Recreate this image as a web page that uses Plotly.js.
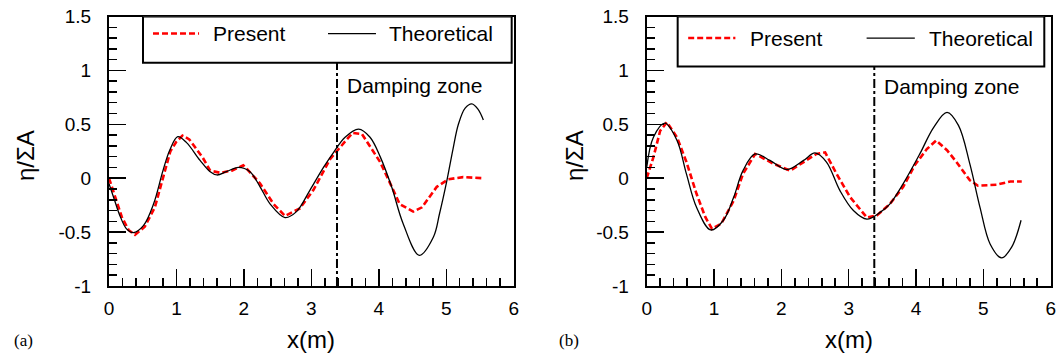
<!DOCTYPE html>
<html>
<head>
<meta charset="utf-8">
<script src="https://cdn.plot.ly/plotly-3.0.1.min.js"></script>
<style>
  html, body { margin: 0; padding: 0; background: #fff; }
  #chart { width: 1059px; height: 353px; }
</style>
</head>
<body>
<div id="chart"></div>
<script>
// Panel (a): free-surface elevation along the flume
const xPresentA = [0, 0.09, 0.19, 0.29, 0.385, 0.53, 0.68, 0.83, 0.91, 1.0, 1.09, 1.19, 1.39, 1.50, 1.65, 1.82, 1.99, 2.04, 2.24, 2.44, 2.61, 2.83, 3.03, 3.28, 3.47, 3.61, 3.75, 4.02, 4.17, 4.31, 4.51, 4.64, 4.86, 5.03, 5.25, 5.53];
const yPresentA = [0, -0.175, -0.36, -0.48, -0.525, -0.45, -0.27, 0.07, 0.25, 0.34, 0.395, 0.36, 0.19, 0.07, 0.05, 0.07, 0.12, 0.09, -0.05, -0.24, -0.35, -0.28, -0.11, 0.18, 0.32, 0.42, 0.41, 0.15, -0.05, -0.24, -0.31, -0.27, -0.08, -0.01, 0.01, 0.0];
const xTheoryA = [0, 0.08, 0.16, 0.26, 0.36, 0.51, 0.66, 0.80, 0.90, 1.02, 1.15, 1.35, 1.50, 1.60, 1.74, 1.92, 2.09, 2.24, 2.39, 2.61, 2.78, 2.98, 3.18, 3.33, 3.50, 3.70, 3.87, 4.02, 4.19, 4.36, 4.60, 4.81, 4.90, 5.01, 5.10, 5.18, 5.28, 5.38, 5.47, 5.55];
const yTheoryA = [-0.05, -0.20, -0.345, -0.47, -0.505, -0.44, -0.24, 0.07, 0.26, 0.386, 0.33, 0.165, 0.06, 0.03, 0.06, 0.10, 0.06, -0.08, -0.24, -0.365, -0.31, -0.11, 0.10, 0.24, 0.38, 0.455, 0.38, 0.20, -0.08, -0.42, -0.715, -0.545, -0.33, -0.02, 0.27, 0.50, 0.65, 0.69, 0.64, 0.54];

// Panel (b)
const xPresentB = [0, 0.10, 0.20, 0.30, 0.45, 0.59, 0.74, 0.87, 0.97, 1.11, 1.29, 1.43, 1.61, 1.88, 2.13, 2.38, 2.52, 2.65, 2.82, 3.02, 3.27, 3.42, 3.61, 3.81, 3.98, 4.16, 4.30, 4.46, 4.60, 4.80, 4.92, 5.20, 5.40, 5.57];
const yPresentB = [0, 0.195, 0.44, 0.52, 0.38, 0.15, -0.145, -0.36, -0.47, -0.42, -0.21, 0.04, 0.225, 0.135, 0.07, 0.165, 0.225, 0.24, 0.04, -0.175, -0.365, -0.345, -0.24, -0.08, 0.12, 0.27, 0.35, 0.26, 0.15, -0.02, -0.07, -0.06, -0.03, -0.03];
const xTheoryB = [0, 0.10, 0.27, 0.45, 0.59, 0.74, 0.95, 1.14, 1.29, 1.43, 1.61, 1.83, 2.08, 2.33, 2.50, 2.67, 2.87, 3.07, 3.27, 3.47, 3.61, 3.81, 4.06, 4.26, 4.46, 4.63, 4.80, 4.95, 5.10, 5.27, 5.42, 5.56];
const yTheoryB = [0.10, 0.38, 0.51, 0.35, 0.04, -0.27, -0.48, -0.39, -0.18, 0.07, 0.225, 0.165, 0.08, 0.165, 0.235, 0.15, -0.115, -0.30, -0.38, -0.315, -0.24, -0.05, 0.23, 0.47, 0.61, 0.49, 0.13, -0.27, -0.61, -0.74, -0.64, -0.39];

// Axis ticks
const xTickVals = [0, 1, 2, 3, 4, 5, 6];
const yTickVals = [-1, -0.5, 0, 0.5, 1, 1.5];
const yTickText = ['-1', '-0.5', '0', '0.5', '1', '1.5'];

// Start of the damping zone (m)
const dampingStart = 3.38;

const FONT = 'Liberation Sans, Arial, Helvetica, sans-serif';
const SERIF = 'Liberation Serif, Times New Roman, serif';
const RED = '#ff0000';

const presentLine = { color: RED, width: 2.6, dash: '6px,3px' };
const theoryLine = { color: '#000', width: 1.3, shape: 'spline', smoothing: 1 };

const traces = [
  { x: xPresentA, y: yPresentA, name: 'Present', mode: 'lines', line: presentLine, xaxis: 'x', yaxis: 'y' },
  { x: xTheoryA, y: yTheoryA, name: 'Theoretical', mode: 'lines', line: theoryLine, xaxis: 'x', yaxis: 'y' },
  { x: xPresentB, y: yPresentB, name: 'Present', mode: 'lines', line: presentLine, xaxis: 'x2', yaxis: 'y2' },
  { x: xTheoryB, y: yTheoryB, name: 'Theoretical', mode: 'lines', line: theoryLine, xaxis: 'x2', yaxis: 'y2' }
];

function xAxis(domain, anchor) {
  return {
    domain: domain, anchor: anchor, range: [0, 6],
    tickmode: 'array', tickvals: xTickVals,
    ticks: 'inside', ticklen: 17, tickwidth: 1.5, tickcolor: '#000',
    minor: { dtick: 0.2, tick0: 0, ticks: 'inside', ticklen: 8, tickwidth: 1.5, tickcolor: '#000', showgrid: false },
    showline: true, linewidth: 2, linecolor: '#000', mirror: true,
    showgrid: false, zeroline: false, ticklabelstandoff: 4,
    tickfont: { family: FONT, size: 19, color: '#000' }, fixedrange: true
  };
}
function yAxis(domain, anchor) {
  return {
    domain: domain, anchor: anchor, range: [-1, 1.5],
    tickmode: 'array', tickvals: yTickVals, ticktext: yTickText,
    ticks: 'inside', ticklen: 17, tickwidth: 1.5, tickcolor: '#000',
    minor: { dtick: 0.1, tick0: 0, ticks: 'inside', ticklen: 8, tickwidth: 1.5, tickcolor: '#000', showgrid: false },
    showline: true, linewidth: 2, linecolor: '#000', mirror: true,
    showgrid: false, zeroline: false, ticklabelstandoff: 12,
    tickfont: { family: FONT, size: 19, color: '#000' }, fixedrange: true
  };
}

// Legend box, sample lines and labels for one panel
function panelDecor(xr, yr, box, redSample, blackSample, textY, presentX, theoryX, dampY, dampTop) {
  const shapes = [
    { type: 'rect', xref: xr, yref: yr, x0: box[0], x1: box[1], y0: box[2], y1: box[3],
      line: { color: '#000', width: 2 }, fillcolor: '#fff', layer: 'above' },
    { type: 'line', xref: xr, yref: yr, x0: redSample[0], x1: redSample[1], y0: textY, y1: textY,
      line: { color: RED, width: 2.6, dash: '6px,3px' } },
    { type: 'line', xref: xr, yref: yr, x0: blackSample[0], x1: blackSample[1], y0: textY, y1: textY,
      line: { color: '#000', width: 1.3 } },
    { type: 'line', xref: xr, yref: yr, x0: dampingStart, x1: dampingStart, y0: -1, y1: dampTop,
      line: { color: '#000', width: 2, dash: 'dashdot' } }
  ];
  const annotations = [
    { xref: xr, yref: yr, x: presentX, y: textY, text: 'Present', showarrow: false,
      xanchor: 'left', yanchor: 'middle', font: { family: FONT, size: 21, color: '#000' } },
    { xref: xr, yref: yr, x: theoryX, y: textY, text: 'Theoretical', showarrow: false,
      xanchor: 'left', yanchor: 'middle', font: { family: FONT, size: 21, color: '#000' } },
    { xref: xr, yref: yr, x: dampingStart + 0.12, y: dampY, text: 'Damping zone', showarrow: false,
      xanchor: 'left', yanchor: 'middle', font: { family: FONT, size: 21, color: '#000' } }
  ];
  return { shapes, annotations };
}

const decA = panelDecor('x', 'y', [0.504, 5.97, 1.07, 1.5], [0.652, 1.335], [3.247, 3.958], 1.342, 1.512, 4.122, 0.857, 1.07);
const decB = panelDecor('x2', 'y2', [0.46, 5.905, 1.036, 1.5], [0.616, 1.317], [3.266, 3.982], 1.30, 1.503, 4.157, 0.85, 1.036);

const W = 1059, H = 353;
const titleFont = { family: FONT, size: 24, color: '#000' };
const pageAnnotations = [
  { xref: 'paper', yref: 'paper', x: 311 / W, y: 1 - 339 / H, text: 'x(m)', showarrow: false, xanchor: 'center', yanchor: 'middle', font: titleFont },
  { xref: 'paper', yref: 'paper', x: 849 / W, y: 1 - 339 / H, text: 'x(m)', showarrow: false, xanchor: 'center', yanchor: 'middle', font: titleFont },
  { xref: 'paper', yref: 'paper', x: 25 / W, y: 1 - 156 / H, text: 'η/ΣA', textangle: -90, showarrow: false, xanchor: 'center', yanchor: 'middle', font: titleFont },
  { xref: 'paper', yref: 'paper', x: 574 / W, y: 1 - 156 / H, text: 'η/ΣA', textangle: -90, showarrow: false, xanchor: 'center', yanchor: 'middle', font: titleFont },
  { xref: 'paper', yref: 'paper', x: 12 / W, y: 1 - 340 / H, text: '(a)', showarrow: false, xanchor: 'left', yanchor: 'middle', font: { family: SERIF, size: 17, color: '#000' } },
  { xref: 'paper', yref: 'paper', x: 557 / W, y: 1 - 340 / H, text: '(b)', showarrow: false, xanchor: 'left', yanchor: 'middle', font: { family: SERIF, size: 17, color: '#000' } }
];

const layout = {
  width: W, height: H,
  margin: { l: 0, r: 0, t: 0, b: 0 },
  paper_bgcolor: '#fff', plot_bgcolor: '#fff',
  showlegend: false,
  xaxis: xAxis([109 / W, 513.7 / W], 'y'),
  yaxis: yAxis([(H - 286) / H, (H - 16.5) / H], 'x'),
  xaxis2: xAxis([646.7 / W, 1050.7 / W], 'y2'),
  yaxis2: yAxis([(H - 286) / H, (H - 16.5) / H], 'x2'),
  shapes: decA.shapes.concat(decB.shapes),
  annotations: decA.annotations.concat(decB.annotations, pageAnnotations)
};

Plotly.newPlot('chart', traces, layout, { staticPlot: true, displayModeBar: false });
</script>
</body>
</html>
